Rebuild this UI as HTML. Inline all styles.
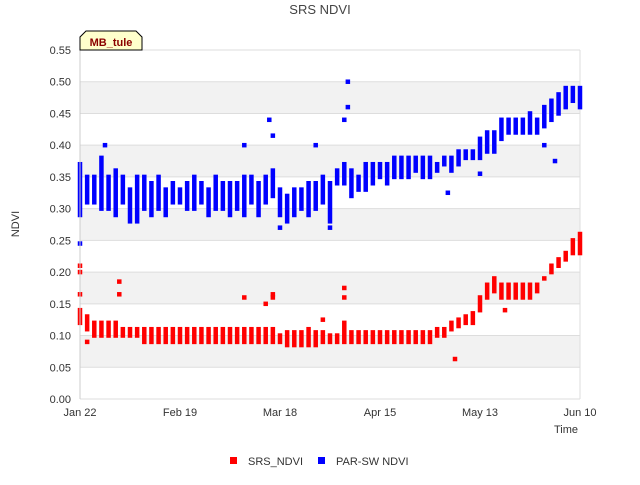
<!DOCTYPE html>
<html><head><meta charset="utf-8"><style>
body{margin:0;background:#fff;font-family:"Liberation Sans",sans-serif}
svg text{font-family:"Liberation Sans",sans-serif}
</style></head><body>
<svg id="chart" width="640" height="480" xmlns="http://www.w3.org/2000/svg">
<rect width="640" height="480" fill="#fff"/>
<g id="bands"></g><g id="grid"></g><g id="marks"></g><g id="axes"></g>
<text x="320" y="14" text-anchor="middle" font-size="13" fill="#444">SRS NDVI</text>
<text x="19" y="224" text-anchor="middle" font-size="11" fill="#333" transform="rotate(-90 19 224)">NDVI</text>
<text x="578" y="433" text-anchor="end" font-size="11" fill="#333">Time</text>
<g>
<path d="M80,50 L80,37 L86,31 L136,31 L142,37 L142,50 Z" fill="#ffffcc" stroke="#000" stroke-width="1"/>
<text x="111" y="46" text-anchor="middle" font-size="11" font-weight="bold" fill="#8b0000">MB_tule</text>
</g>
<g>
<rect x="230" y="457" width="7" height="7" fill="#f00"/>
<text x="248" y="465" font-size="11" fill="#333">SRS_NDVI</text>
<rect x="318" y="457" width="7" height="7" fill="#00f"/>
<text x="336" y="465" font-size="11" fill="#333">PAR-SW NDVI</text>
</g>
</svg>
<script>
const yTicks=[0,0.05,0.10,0.15,0.20,0.25,0.30,0.35,0.40,0.45,0.50,0.55];
const xTickDays=[0,28,56,84,112,140];
const xTickLabels=["Jan 22","Feb 19","Mar 18","Apr 15","May 13","Jun 10"];
const sampleDays=[];for(let d=0;d<=140;d+=2)sampleDays.push(d);
const blueLow=[0.29,0.31,0.31,0.30,0.30,0.29,0.31,0.28,0.28,0.30,0.29,0.30,0.29,0.31,0.31,0.30,0.30,0.31,0.29,0.30,0.30,0.29,0.30,0.29,0.31,0.29,0.31,0.32,0.29,0.28,0.29,0.30,0.29,0.30,0.31,0.28,0.34,0.34,0.32,0.33,0.33,0.34,0.35,0.34,0.35,0.35,0.35,0.36,0.35,0.35,0.36,0.37,0.36,0.37,0.38,0.38,0.38,0.39,0.39,0.41,0.42,0.42,0.42,0.42,0.42,0.43,0.44,0.45,0.46,0.47,0.46];
const blueHigh=[0.37,0.35,0.35,0.38,0.35,0.36,0.35,0.33,0.35,0.35,0.34,0.35,0.33,0.34,0.33,0.34,0.35,0.34,0.33,0.35,0.34,0.34,0.34,0.35,0.35,0.34,0.35,0.36,0.33,0.32,0.33,0.33,0.34,0.34,0.35,0.34,0.36,0.37,0.36,0.35,0.37,0.37,0.37,0.37,0.38,0.38,0.38,0.38,0.38,0.38,0.37,0.38,0.38,0.39,0.39,0.39,0.41,0.42,0.42,0.44,0.44,0.44,0.44,0.45,0.44,0.46,0.47,0.48,0.49,0.49,0.49];
const redLow=[0.12,0.11,0.10,0.10,0.10,0.10,0.10,0.10,0.10,0.09,0.09,0.09,0.09,0.09,0.09,0.09,0.09,0.09,0.09,0.09,0.09,0.09,0.09,0.09,0.09,0.09,0.09,0.09,0.09,0.085,0.085,0.085,0.085,0.085,0.09,0.09,0.09,0.09,0.09,0.09,0.09,0.09,0.09,0.09,0.09,0.09,0.09,0.09,0.09,0.09,0.10,0.10,0.11,0.115,0.12,0.12,0.14,0.16,0.17,0.16,0.16,0.16,0.16,0.16,0.17,0.19,0.20,0.21,0.22,0.23,0.23];
const redHigh=[0.14,0.13,0.12,0.12,0.12,0.12,0.11,0.11,0.11,0.11,0.11,0.11,0.11,0.11,0.11,0.11,0.11,0.11,0.11,0.11,0.11,0.11,0.11,0.11,0.11,0.11,0.11,0.11,0.10,0.105,0.105,0.105,0.11,0.105,0.105,0.10,0.10,0.12,0.105,0.105,0.105,0.105,0.105,0.105,0.105,0.105,0.105,0.105,0.105,0.105,0.11,0.11,0.12,0.125,0.13,0.135,0.16,0.18,0.19,0.18,0.18,0.18,0.18,0.18,0.18,0.19,0.21,0.22,0.23,0.25,0.26];
const blueSpikeDays=[0,7,46,53,54,56,66,70,75,75,74,103,112,130,133];
const blueSpikeVals=[0.245,0.40,0.40,0.44,0.415,0.27,0.40,0.27,0.50,0.46,0.44,0.325,0.355,0.40,0.375];
const redSpikeDays=[0,0,0,2,11,11,46,52,54,54,68,74,74,105,119];
const redSpikeVals=[0.21,0.20,0.165,0.09,0.185,0.165,0.16,0.15,0.165,0.16,0.125,0.175,0.16,0.063,0.14];

const X0=80,X1=580,Y0=399,Y1=50;
const xs=d=>X0+d/140*(X1-X0);
const ys=v=>Y0-v/0.55*(Y0-Y1);
const NS="http://www.w3.org/2000/svg";
function mk(tag,attrs,parent,text){const e=document.createElementNS(NS,tag);for(const k in attrs)e.setAttribute(k,attrs[k]);if(text!==undefined)e.textContent=text;document.getElementById(parent).appendChild(e);return e;}
for(let i=0;i<yTicks.length-1;i++){
 if(i%2===1){const b=mk('rect',{x:X0,y:ys(yTicks[i+1]),width:X1-X0,height:ys(yTicks[i])-ys(yTicks[i+1]),fill:'#f2f2f2'},'bands');
 
 }
}
yTicks.forEach(t=>{
 const l=mk('line',{x1:X0,x2:X1,y1:ys(t),y2:ys(t),stroke:'#ddd'},'grid');
 
 
 const tx=mk('text',{x:X0-9,y:ys(t)+4,'text-anchor':'end','font-size':11,fill:'#333'},'axes',t.toFixed(2));
 
 
});
const rb=mk('line',{x1:X1,x2:X1,y1:Y1,y2:Y0,stroke:'#ddd'},'grid');


const la=mk('line',{x1:X0,x2:X0,y1:Y1,y2:Y0,stroke:'#ccc'},'axes');


xTickDays.forEach((d,i)=>{
 const t=mk('text',{x:xs(d),y:416,'text-anchor':'middle','font-size':11,fill:'#333'},'axes',xTickLabels[i]);
 
 
});
function ranges(lo,hi,color,name){
 sampleDays.forEach((d,i)=>{
  const r=mk('rect',{x:xs(d)-2.25,y:ys(hi[i])-2.25,width:4.5,height:ys(lo[i])-ys(hi[i])+4.5,fill:color},'marks');
  
  
 });
}
function spikes(ds,vs,color,name){
 ds.forEach((d,i)=>{
  const r=mk('rect',{x:xs(d)-2.25,y:ys(vs[i])-2.25,width:4.5,height:4.5,fill:color},'marks');
  
  
 });
}
ranges(blueLow,blueHigh,'#0000ff','parsw-ndvi-points');
spikes(blueSpikeDays,blueSpikeVals,'#0000ff','parsw-ndvi-point');
ranges(redLow,redHigh,'#ff0000','srs-ndvi-points');
spikes(redSpikeDays,redSpikeVals,'#ff0000','srs-ndvi-point');
</script>
</body></html>
